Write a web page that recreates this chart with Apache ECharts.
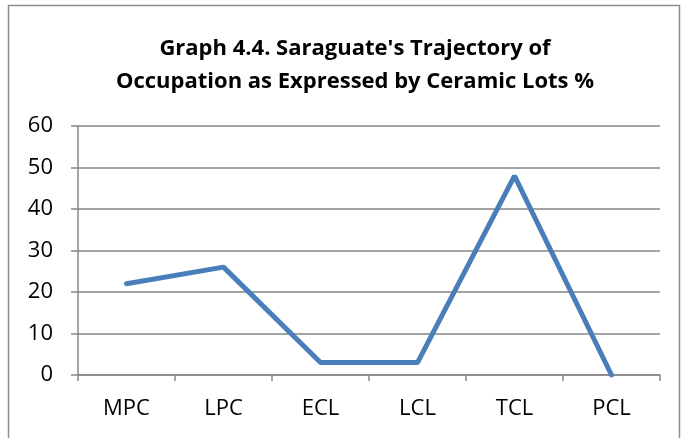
<!DOCTYPE html>
<html>
<head>
<meta charset="utf-8">
<script src="https://cdn.jsdelivr.net/npm/echarts@6/dist/echarts.min.js"></script>
<style>
html, body { margin: 0; padding: 0; background: #fff; }
#J-line { width: 681px; height: 438px; }
</style>
</head>
<body>
<div id="J-line"></div>
<script>
const categories = ['MPC', 'LPC', 'ECL', 'LCL', 'TCL', 'PCL'];
const values = [22, 26, 3, 3, 48, 0];
const titleText = "Graph 4.4. Saraguate's Trajectory of\nOccupation as Expressed by Ceramic Lots %";

const FONT = '"Open Sans", Lato, sans-serif';

const option = {
    animation: false,
    title: {
        text: titleText,
        left: 350,
        top: 27,
        textAlign: 'center',
        textStyle: {
            fontFamily: FONT,
            fontSize: 22,
            fontWeight: 'bold',
            color: '#000',
            lineHeight: 33,
        },
    },
    graphic: [{
        type: 'rect',
        shape: { x: 8.5, y: 5.5, width: 671, height: 450 },
        style: { fill: 'none', stroke: '#8c8c8c', lineWidth: 1.5 },
        silent: true,
    }],
    grid: {
        left: 78,
        right: 21,
        top: 126,
        bottom: 63,
    },
    xAxis: {
        type: 'category',
        boundaryGap: true,
        data: categories,
        axisLine: { lineStyle: { color: '#868686', width: 1.5 } },
        axisTick: { show: true, length: 6, lineStyle: { color: '#868686', width: 1.5 } },
        axisLabel: {
            margin: 23,
            fontFamily: FONT,
            fontSize: 22,
            color: '#000',
        },
    },
    yAxis: {
        type: 'value',
        min: 0,
        max: 60,
        interval: 10,
        axisLine: { show: true, lineStyle: { color: '#868686', width: 1.5 } },
        axisTick: { show: true, length: 7, lineStyle: { color: '#868686', width: 1.5 } },
        axisLabel: {
            margin: 25,
            fontFamily: FONT,
            fontSize: 22,
            color: '#000',
        },
        splitLine: { lineStyle: { color: '#868686', width: 1.5 } },
    },
    series: [{
        type: 'line',
        data: values,
        symbol: 'none',
        lineStyle: { color: '#4a7ebb', width: 5, cap: 'round' },
    }],
};

const chart = echarts.init(document.getElementById('J-line'));
chart.setOption(option);
</script>
</body>
</html>
